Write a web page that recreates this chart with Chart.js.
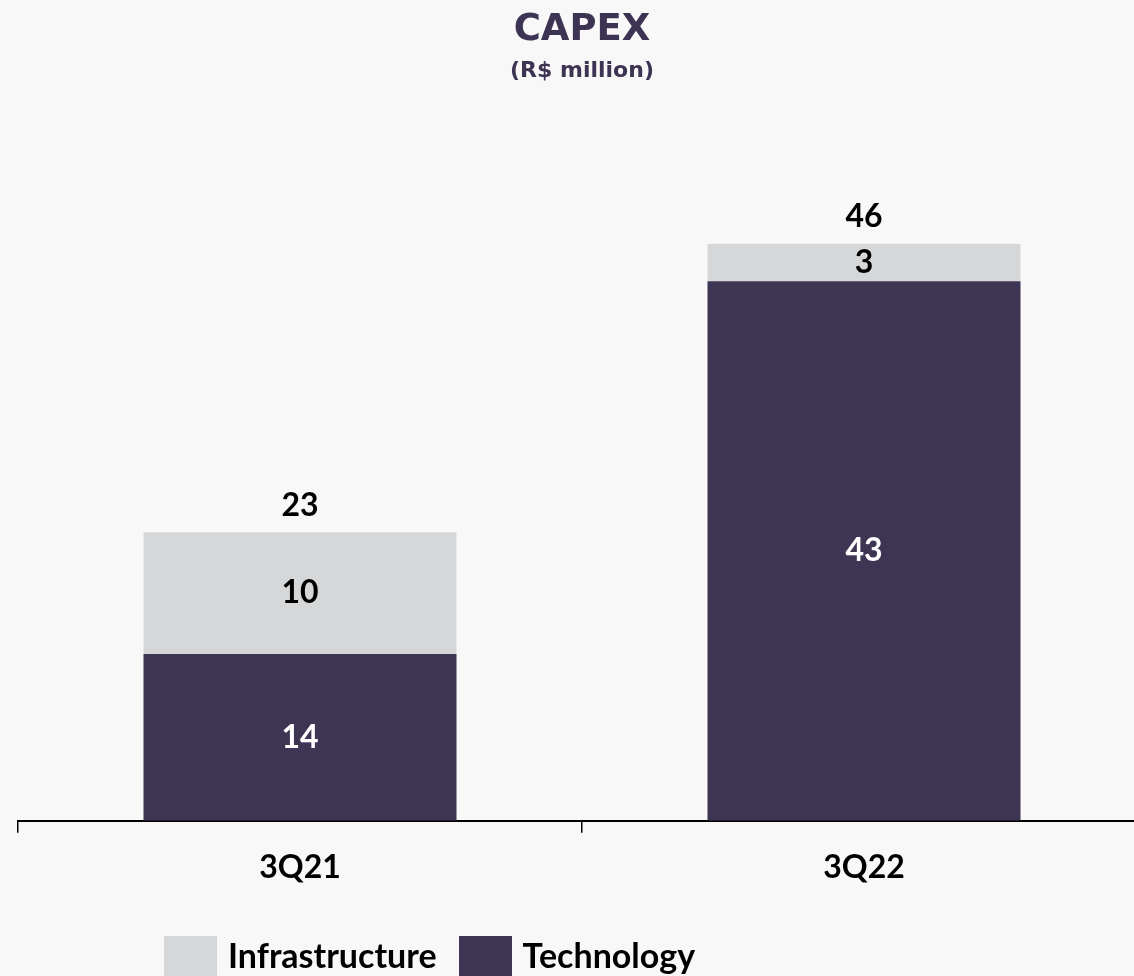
<!DOCTYPE html>
<html>
<head>
<meta charset="utf-8">
<title>CAPEX</title>
<script src="https://cdn.jsdelivr.net/npm/chart.js@4.4.1/dist/chart.umd.min.js"></script>
<style>
  html, body { margin: 0; padding: 0; background: #f8f8f8; overflow: hidden; }
  #wrap { position: relative; width: 1134px; height: 976px; overflow: hidden; }
  #capex { position: absolute; left: 0; top: 0; }
  #legend {
    position: absolute; left: 164px; top: 936px; display: flex;
    font-family: Lato, sans-serif; font-weight: bold; font-size: 34px; color: #000;
  }
  .legend-item { display: flex; align-items: flex-start; margin-right: 22px; }
  .legend-box { width: 53px; height: 53px; margin-right: 11px; }
  .legend-text { line-height: 38px; white-space: nowrap; }
</style>
</head>
<body>
<div id="wrap">
  <canvas id="capex" width="1146" height="976"></canvas>
  <div id="legend"></div>
</div>
<script>
const quarters = ['3Q21', '3Q22'];
const technology = [13.3, 43];
const infrastructure = [9.7, 3];
const technologyLabels = ['14', '43'];
const infrastructureLabels = ['10', '3'];
const totalLabels = ['23', '46'];

const purple = '#3e3453';
const grey = '#d6d7d9';

// value labels in the middle of each segment, totals above the stack
const segmentLabels = {
  id: 'segmentLabels',
  afterDatasetsDraw(chart) {
    const ctx = chart.ctx;
    ctx.save();
    ctx.font = 'bold 32px Lato';
    ctx.textAlign = 'center';
    ctx.textBaseline = 'middle';

    chart.data.datasets.forEach((ds, i) => {
      chart.getDatasetMeta(i).data.forEach((bar, j) => {
        ctx.fillStyle = ds.labelColor;
        ctx.fillText(ds.valueLabels[j], bar.x, (bar.y + bar.base) / 2);
      });
    });

    const topBars = chart.getDatasetMeta(chart.data.datasets.length - 1).data;
    ctx.fillStyle = '#000';
    topBars.forEach((bar, j) => ctx.fillText(totalLabels[j], bar.x, bar.y - 27));
    ctx.restore();
  }
};

const chart = new Chart(document.getElementById('capex'), {
  type: 'bar',
  data: {
    labels: quarters,
    datasets: [
      { label: 'Technology', data: technology, backgroundColor: purple, valueLabels: technologyLabels, labelColor: '#fff' },
      { label: 'Infrastructure', data: infrastructure, backgroundColor: grey, valueLabels: infrastructureLabels, labelColor: '#000' }
    ]
  },
  options: {
    responsive: false,
    animation: false,
    categoryPercentage: 1,
    barPercentage: 0.555,
    layout: { padding: { left: 18, right: 0, top: 0, bottom: 72.8 } },
    plugins: {
      legend: { display: false },
      tooltip: { enabled: false },
      title: {
        display: true,
        text: 'CAPEX',
        color: '#3d3352',
        font: { family: 'DejaVu Sans', size: 37, weight: 'bold' },
        padding: { top: 8, bottom: 5 }
      },
      subtitle: {
        display: true,
        text: '(R$ million)',
        color: '#3d3352',
        font: { family: 'DejaVu Sans', size: 22, weight: 'bold' },
        padding: { top: 0.4, bottom: 109.3 }
      }
    },
    scales: {
      x: {
        stacked: true,
        grid: { display: true, drawOnChartArea: false, drawTicks: true, tickLength: 12, color: '#000', lineWidth: 1.5, offset: true },
        border: { display: true, color: '#000', width: 2 },
        ticks: { color: '#000', padding: 16, font: { family: 'Lato', size: 32, weight: 'bold' } }
      },
      y: { stacked: true, display: false, min: 0, max: 50 }
    }
  },
  plugins: [segmentLabels]
});

// legend in the reference order: Infrastructure first
const legend = document.getElementById('legend');
[chart.data.datasets[1], chart.data.datasets[0]].forEach((ds) => {
  const item = document.createElement('div');
  item.className = 'legend-item';
  item.innerHTML = `<div class="legend-box" style="background:${ds.backgroundColor}"></div><span class="legend-text">${ds.label}</span>`;
  legend.appendChild(item);
});
</script>
</body>
</html>
